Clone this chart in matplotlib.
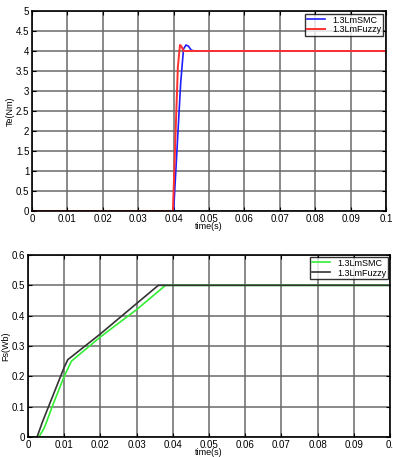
import matplotlib
matplotlib.use('Agg')
import matplotlib.pyplot as plt

plt.rcParams['font.family'] = ['Liberation Sans', 'DejaVu Sans']

# torque response, Te(Nm)
t_te_smc = [0, 0.0400, 0.0410, 0.0420, 0.0428, 0.0435, 0.0442, 0.0450, 0.0460, 0.1]
te_smc = [0, 0, 1.6, 3.2, 4.05, 4.15, 4.12, 4.02, 4.0, 4.0]
t_te_fuzzy = [0, 0.0398, 0.0405, 0.0412, 0.0418, 0.0422, 0.0428, 0.0435, 0.1]
te_fuzzy = [0, 0, 1.8, 3.6, 4.15, 4.12, 4.0, 4.0, 4.0]

# flux response, Fs(Wb)
t_fs_smc = [0, 0.0030, 0.0045, 0.0070, 0.0100, 0.0120, 0.0200, 0.0300, 0.0380, 0.0600, 0.0800, 0.1]
fs_smc = [0, 0, 0.03, 0.11, 0.20, 0.25, 0.33, 0.42, 0.50, 0.50, 0.50, 0.50]
t_fs_fuzzy = [0, 0.0025, 0.0040, 0.0070, 0.0100, 0.0110, 0.0200, 0.0300, 0.0360, 0.0600, 0.0800, 0.1]
fs_fuzzy = [0, 0, 0.05, 0.14, 0.23, 0.255, 0.34, 0.44, 0.50, 0.50, 0.50, 0.50]

xticks = [0, 0.01, 0.02, 0.03, 0.04, 0.05, 0.06, 0.07, 0.08, 0.09, 0.1]
xticklabels = ['0', '0.01', '0.02', '0.03', '0.04', '0.05', '0.06', '0.07', '0.08', '0.09', '0.1']

fig = plt.figure(figsize=(3.93, 4.57), dpi=100)
W, H = 393, 457
ax1 = fig.add_axes([32 / W, 1 - 211 / H, (386 - 32) / W, (211 - 11) / H])
ax2 = fig.add_axes([28 / W, 1 - 437 / H, (390 - 28) / W, (437 - 255) / H])


def style(ax):
    ax.set_xlim(0, 0.1)
    ax.set_xticks(xticks)
    ax.grid(True, color='#6a6a6a', linewidth=1.1)
    ax.set_axisbelow(True)
    ax.tick_params(direction='in', top=True, right=True, labelsize=7,
                   length=3, pad=2)
    for s in ax.spines.values():
        s.set_linewidth(1.2)
    ax.set_xlabel('time(s)', fontsize=6.5, labelpad=-1)


ax1.plot(t_te_smc, te_smc, color='#1f1fff', linewidth=1.2, label='1.3LmSMC')
ax1.plot(t_te_fuzzy, te_fuzzy, color='#ff3030', linewidth=1.4, label='1.3LmFuzzy')
style(ax1)
ax1.set_xticklabels(xticklabels)
ax1.set_ylim(0, 5)
ax1.set_yticks([0, 0.5, 1, 1.5, 2, 2.5, 3, 3.5, 4, 4.5, 5])
ax1.set_yticklabels(['0', '0.5', '1', '1.5', '2', '2.5', '3', '3.5', '4', '4.5', '5'])
ax1.set_ylabel('Te(Nm)', fontsize=6.5, labelpad=1)
ax1.legend(loc='upper right', fontsize=6.5, frameon=True, fancybox=False,
           edgecolor='black', borderpad=0.2, handlelength=2.0,
           labelspacing=0.1, borderaxespad=0.3).get_frame().set_linewidth(1.0)

ax2.plot(t_fs_smc, fs_smc, color='#33ee33', linewidth=1.2, label='1.3LmSMC')
ax2.plot(t_fs_fuzzy, fs_fuzzy, color='#333333', linewidth=1.2, label='1.3LmFuzzy')
style(ax2)
ax2.set_xticklabels(['0', '0.01', '0.02', '0.03', '0.04', '0.05', '0.06', '0.07', '0.08', '0.09', '0.'])
ax2.set_ylim(0, 0.6)
ax2.set_yticks([0, 0.1, 0.2, 0.3, 0.4, 0.5, 0.6])
ax2.set_yticklabels(['0', '0.1', '0.2', '0.3', '0.4', '0.5', '0.6'])
ax2.set_ylabel('Fs(Wb)', fontsize=6.5, labelpad=1)
ax2.legend(loc='upper right', fontsize=6.5, frameon=True, fancybox=False,
           edgecolor='black', borderpad=0.2, handlelength=2.0,
           labelspacing=0.1, borderaxespad=0.2).get_frame().set_linewidth(1.0)

fig.savefig('out.png', dpi=100)
